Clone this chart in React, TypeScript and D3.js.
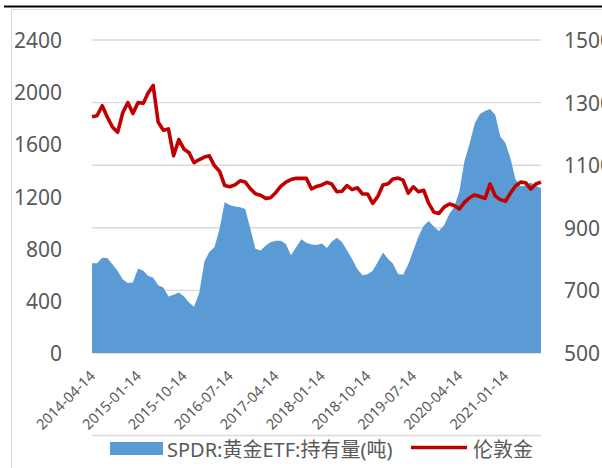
import React from 'react';
import * as d3 from 'd3';

// monthly readings, starting 2014-04-14
const startDate = '2014-04-14';
const endDate = '2021-08-14';

// SPDR 黄金ETF 持有量(吨), left axis
const spdrHoldings = [
  688, 688, 730, 728, 681, 629, 565, 536, 540, 647, 631, 593, 577, 520, 502, 433,
  447, 463, 436, 387, 355, 462, 704, 774, 812, 951, 1157, 1135, 1124, 1118, 1105, 953,
  800, 785, 825, 850, 860, 860, 835, 750, 810, 873, 845, 832, 828, 840, 805, 853,
  884, 852, 786, 720, 645, 596, 604, 630, 697, 770, 720, 686, 605, 600, 680, 785,
  893, 975, 1013, 970, 935, 980, 1065, 1120, 1240, 1470, 1605, 1757, 1832, 1855, 1870, 1826,
  1660, 1610, 1488, 1335, 1278, 1285, 1308, 1283, 1263,
];

// 伦敦金, right axis
const londonGold = [
  1255, 1258, 1290, 1254, 1222, 1205, 1267, 1300, 1265, 1300, 1298, 1330, 1355, 1237, 1212, 1216,
  1130, 1182, 1152, 1140, 1108, 1118, 1126, 1130, 1098, 1081, 1035, 1031, 1037, 1050, 1046, 1025,
  1009, 1004, 994, 996, 1012, 1032, 1046, 1054, 1058, 1058, 1058, 1024, 1032, 1037, 1045, 1040,
  1015, 1017, 1035, 1022, 1028, 1008, 1008, 978, 1000, 1037, 1041, 1056, 1059, 1052, 1011, 1031,
  1015, 1020, 978, 950, 946, 966, 976, 971, 960, 981, 996, 1005, 1000, 994, 1040, 1002,
  990, 985, 1012, 1033, 1046, 1044, 1024, 1040, 1046,
];

const xLabels = [
  '2014-04-14', '2015-01-14', '2015-10-14', '2016-07-14', '2017-04-14',
  '2018-01-14', '2018-10-14', '2019-07-14', '2020-04-14', '2021-01-14',
];
const leftTicks = [0, 400, 800, 1200, 1600, 2000, 2400];
const rightTicks = [500, 700, 900, 1100, 1300, 1500];

const seriesNames = ['SPDR:黄金ETF:持有量(吨)', '伦敦金'];

const W = 602;
const H = 468;
const plot = { left: 92, right: 541, top: 40, bottom: 353 };
const blue = '#5B9BD5';
const red = '#C00000';
const grey = '#595959';
const font = '"Noto Sans", "Noto Sans CJK SC", sans-serif';

const parse = d3.timeParse('%Y-%m-%d');

const App = () => {
  const start = parse(startDate) as Date;
  const x = d3.scaleTime()
    .domain([start, parse(endDate) as Date])
    .range([plot.left, plot.right]);
  const yL = d3.scaleLinear().domain([0, 2400]).range([plot.bottom, plot.top]);
  const yR = d3.scaleLinear().domain([500, 1500]).range([plot.bottom, plot.top]);

  const months = spdrHoldings.map((_, i) => d3.timeMonth.offset(start, i));

  const area = d3.area<number>()
    .x((_, i) => x(months[i]))
    .y0(yL(0))
    .y1((d) => yL(d));

  const line = d3.line<number>()
    .x((_, i) => x(months[i]))
    .y((d) => yR(d));

  return (
    <svg width={W} height={H} style={{ position: 'absolute', left: 0, top: 0, display: 'block' }}
      fontFamily={font}>
      <rect x={0} y={0} width={W} height={H} fill="#fff" />
      {/* frame */}
      <line x1={11.5} x2={11.5} y1={9.5} y2={H} stroke="#D9D9D9" strokeWidth={1} />
      <line x1={11.5} x2={W} y1={9.5} y2={9.5} stroke="#D9D9D9" strokeWidth={1} />
      <line x1={4} x2={W} y1={6.5} y2={6.5} stroke="#000" strokeWidth={2.2} />

      {/* gridlines follow the secondary axis */}
      {rightTicks.map((t) => (
        <line key={t} x1={plot.left} x2={plot.right} y1={yR(t)} y2={yR(t)}
          stroke="#D9D9D9" strokeWidth={1.4} />
      ))}

      <path d={area(spdrHoldings) ?? ''} fill={blue} />
      <path d={line(londonGold) ?? ''} fill="none" stroke={red} strokeWidth={3.6}
        strokeLinejoin="round" />

      {leftTicks.map((t) => (
        <text key={t} x={62} y={yL(t)} textAnchor="end" dominantBaseline="central"
          fontSize={21} fill={grey}>{t}</text>
      ))}
      {rightTicks.map((t) => (
        <text key={t} x={564} y={yR(t)} textAnchor="start" dominantBaseline="central"
          fontSize={21} fill={grey}>{t}</text>
      ))}

      {xLabels.map((l) => {
        const px = x(parse(l) as Date);
        return (
          <text key={l} transform={`translate(${px + 4}, 377) rotate(-45)`} textAnchor="end"
            fontSize={14.5} fill={grey}>{l}</text>
        );
      })}

      {/* legend */}
      <line x1={plot.left} x2={plot.right} y1={435.5} y2={435.5} stroke="#D9D9D9" strokeWidth={1.4} />
      <rect x={110} y={442} width={53} height={13} fill={blue} />
      <text x={167} y={456.5} fontSize={20} fill={grey}>{seriesNames[0]}</text>
      <line x1={411} x2={467} y1={447.5} y2={447.5} stroke={red} strokeWidth={3.5} />
      <text x={473} y={456.5} fontSize={20} fill={grey}>{seriesNames[1]}</text>
    </svg>
  );
};

export default App;
